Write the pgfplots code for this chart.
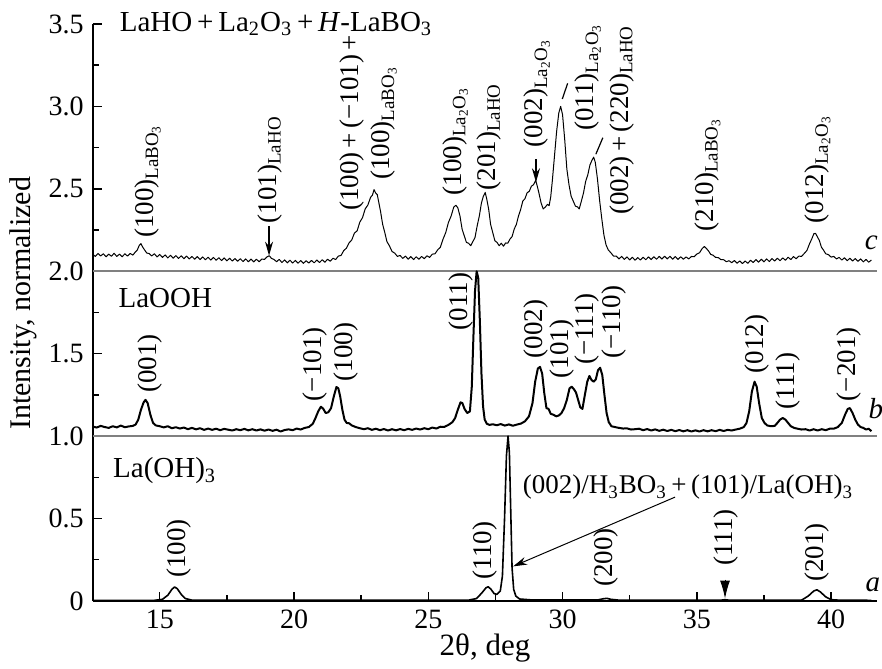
\documentclass[border=0pt]{standalone}
\usepackage{fontspec}
\setmainfont{Liberation Serif}
\usepackage{pgfplots}
\pgfplotsset{compat=1.18}
\usetikzlibrary{arrows.meta}
\tikzset{rl/.style={rotate=90, anchor=west, inner sep=0pt}}

\pgfplotstableread{
x y
12.50 0.004
14.80 0.004
15.10 0.010
15.30 0.035
15.45 0.070
15.55 0.085
15.65 0.075
15.80 0.040
15.95 0.015
16.20 0.005
26.50 0.005
26.80 0.015
27.00 0.050
27.15 0.080
27.23 0.086
27.33 0.072
27.45 0.045
27.55 0.040
27.68 0.060
27.76 0.150
27.84 0.500
27.91 0.880
27.97 1.000
28.02 0.900
28.07 0.550
28.12 0.200
28.18 0.070
28.26 0.030
28.40 0.012
28.80 0.007
31.30 0.006
31.50 0.013
31.65 0.016
31.80 0.010
32.10 0.005
35.90 0.005
36.05 0.008
36.20 0.005
38.90 0.005
39.15 0.030
39.35 0.060
39.47 0.068
39.60 0.055
39.80 0.025
40.00 0.008
40.30 0.005
41.50 0.004
}\dataA

\pgfplotstableread{
x y
12.50 1.058
12.65 1.052
12.80 1.062
12.95 1.055
13.10 1.050
13.25 1.060
13.40 1.053
13.55 1.064
13.70 1.054
13.85 1.059
14.00 1.062
14.10 1.070
14.20 1.100
14.30 1.160
14.40 1.205
14.47 1.220
14.55 1.200
14.65 1.130
14.75 1.080
14.85 1.065
15.00 1.060
15.15 1.053
15.30 1.060
15.45 1.048
15.60 1.054
15.75 1.046
15.90 1.052
16.05 1.042
16.20 1.050
16.35 1.041
16.50 1.048
16.65 1.038
16.80 1.046
16.95 1.038
17.10 1.045
17.25 1.036
17.40 1.044
17.55 1.039
17.70 1.034
17.85 1.042
18.00 1.036
18.15 1.044
18.30 1.035
18.45 1.042
18.60 1.034
18.75 1.041
18.90 1.033
19.05 1.040
19.20 1.032
19.35 1.039
19.50 1.028
19.65 1.037
19.80 1.041
19.95 1.036
20.10 1.046
20.25 1.040
20.40 1.050
20.55 1.055
20.70 1.075
20.80 1.110
20.90 1.150
21.00 1.178
21.08 1.168
21.18 1.140
21.28 1.145
21.38 1.170
21.48 1.240
21.58 1.298
21.65 1.290
21.72 1.240
21.80 1.160
21.88 1.100
21.96 1.080
22.05 1.078
22.15 1.065
22.30 1.055
22.45 1.048
22.60 1.042
22.75 1.048
22.90 1.038
23.05 1.045
23.20 1.036
23.35 1.043
23.50 1.034
23.65 1.042
23.80 1.035
23.95 1.043
24.10 1.036
24.25 1.044
24.40 1.038
24.55 1.046
24.70 1.040
24.85 1.048
25.00 1.042
25.15 1.052
25.30 1.046
25.45 1.057
25.60 1.056
25.75 1.068
25.90 1.085
26.00 1.110
26.10 1.160
26.20 1.205
26.27 1.200
26.35 1.165
26.45 1.140
26.55 1.150
26.62 1.300
26.68 1.600
26.74 1.880
26.80 2.000
26.86 1.960
26.92 1.700
26.98 1.380
27.04 1.180
27.10 1.100
27.18 1.075
27.28 1.068
27.40 1.072
27.55 1.066
27.70 1.073
27.85 1.064
28.00 1.071
28.15 1.063
28.30 1.070
28.45 1.076
28.60 1.090
28.75 1.120
28.88 1.200
28.98 1.330
29.08 1.410
29.16 1.420
29.24 1.380
29.32 1.260
29.40 1.170
29.48 1.165
29.56 1.135
29.66 1.130
29.76 1.120
29.86 1.125
29.96 1.140
30.06 1.170
30.16 1.220
30.26 1.290
30.34 1.300
30.42 1.285
30.50 1.265
30.58 1.220
30.66 1.175
30.74 1.165
30.82 1.240
30.92 1.330
31.00 1.365
31.08 1.340
31.16 1.330
31.24 1.345
31.32 1.400
31.40 1.415
31.48 1.370
31.56 1.250
31.64 1.140
31.72 1.085
31.82 1.060
31.95 1.055
32.10 1.050
32.25 1.046
32.40 1.047
32.55 1.040
32.70 1.042
32.85 1.045
33.00 1.036
33.15 1.043
33.30 1.034
33.45 1.041
33.60 1.032
33.75 1.039
33.90 1.031
34.05 1.038
34.20 1.030
34.35 1.037
34.50 1.029
34.65 1.036
34.80 1.028
34.95 1.035
35.10 1.028
35.25 1.036
35.40 1.029
35.55 1.036
35.70 1.030
35.85 1.038
36.00 1.031
36.15 1.038
36.30 1.034
36.45 1.040
36.60 1.045
36.75 1.055
36.85 1.080
36.95 1.150
37.05 1.270
37.15 1.330
37.23 1.300
37.32 1.200
37.42 1.110
37.52 1.080
37.62 1.065
37.75 1.060
37.90 1.062
38.00 1.080
38.10 1.100
38.20 1.110
38.30 1.100
38.40 1.080
38.50 1.060
38.62 1.050
38.75 1.045
38.90 1.040
39.05 1.042
39.20 1.034
39.35 1.042
39.50 1.034
39.65 1.042
39.80 1.036
39.95 1.045
40.10 1.045
40.25 1.055
40.40 1.080
40.52 1.130
40.62 1.165
40.70 1.170
40.80 1.140
40.90 1.100
41.00 1.070
41.10 1.055
41.20 1.050
41.30 1.040
41.40 1.045
41.50 1.030
}\dataB

\pgfplotstableread{
x y
12.50 2.104
12.60 2.090
12.70 2.108
12.80 2.093
12.90 2.106
13.00 2.088
13.10 2.104
13.20 2.091
13.30 2.109
13.40 2.090
13.50 2.104
13.60 2.088
13.70 2.106
13.80 2.092
13.90 2.108
14.00 2.098
14.08 2.115
14.16 2.128
14.24 2.158
14.30 2.168
14.36 2.148
14.44 2.128
14.52 2.110
14.60 2.108
14.70 2.093
14.80 2.106
14.90 2.087
15.00 2.102
15.10 2.084
15.20 2.099
15.30 2.081
15.40 2.097
15.50 2.079
15.60 2.095
15.70 2.078
15.80 2.094
15.90 2.076
16.00 2.092
16.10 2.075
16.20 2.090
16.30 2.073
16.40 2.089
16.50 2.071
16.60 2.087
16.70 2.070
16.80 2.085
16.90 2.068
17.00 2.084
17.10 2.067
17.20 2.082
17.30 2.065
17.40 2.081
17.50 2.063
17.60 2.079
17.70 2.062
17.80 2.077
17.90 2.061
18.00 2.076
18.10 2.059
18.20 2.075
18.30 2.058
18.40 2.074
18.50 2.057
18.60 2.073
18.70 2.058
18.80 2.074
18.90 2.072
19.00 2.088
19.08 2.094
19.16 2.078
19.25 2.072
19.35 2.058
19.45 2.072
19.55 2.053
19.65 2.069
19.75 2.051
19.85 2.067
19.95 2.050
20.05 2.066
20.15 2.049
20.25 2.065
20.35 2.048
20.45 2.064
20.55 2.050
20.65 2.066
20.75 2.051
20.85 2.068
20.95 2.053
21.05 2.070
21.15 2.055
21.25 2.073
21.35 2.061
21.45 2.079
21.55 2.071
21.65 2.092
21.75 2.096
21.85 2.125
21.95 2.140
22.05 2.172
22.15 2.190
22.25 2.232
22.35 2.245
22.45 2.298
22.55 2.325
22.65 2.378
22.75 2.402
22.85 2.448
22.92 2.462
22.98 2.495
23.04 2.475
23.10 2.465
23.16 2.415
23.22 2.365
23.30 2.285
23.38 2.235
23.46 2.180
23.55 2.155
23.65 2.120
23.75 2.110
23.85 2.090
23.95 2.096
24.05 2.078
24.15 2.092
24.25 2.073
24.35 2.089
24.45 2.071
24.55 2.088
24.65 2.073
24.75 2.090
24.85 2.076
24.95 2.094
25.05 2.084
25.15 2.104
25.25 2.106
25.35 2.130
25.45 2.146
25.55 2.195
25.65 2.235
25.75 2.296
25.85 2.335
25.95 2.390
26.03 2.400
26.10 2.385
26.18 2.335
26.26 2.255
26.34 2.215
26.42 2.175
26.50 2.170
26.58 2.155
26.66 2.180
26.74 2.205
26.82 2.275
26.90 2.335
26.98 2.415
27.05 2.455
27.12 2.478
27.18 2.436
27.25 2.375
27.32 2.285
27.40 2.235
27.48 2.185
27.56 2.175
27.64 2.155
27.72 2.170
27.80 2.152
27.88 2.172
27.96 2.170
28.04 2.195
28.12 2.210
28.20 2.256
28.28 2.284
28.36 2.336
28.44 2.375
28.52 2.426
28.60 2.440
28.68 2.476
28.76 2.485
28.84 2.516
28.92 2.525
29.00 2.552
29.06 2.515
29.12 2.475
29.20 2.415
29.28 2.378
29.36 2.390
29.44 2.406
29.50 2.398
29.56 2.452
29.62 2.550
29.70 2.700
29.78 2.850
29.86 2.960
29.93 3.000
30.00 2.950
30.08 2.800
30.16 2.620
30.24 2.525
30.32 2.455
30.40 2.425
30.48 2.395
30.56 2.390
30.62 2.378
30.70 2.425
30.78 2.475
30.86 2.545
30.94 2.585
31.02 2.645
31.10 2.675
31.16 2.692
31.22 2.660
31.30 2.560
31.38 2.430
31.46 2.320
31.54 2.220
31.62 2.160
31.70 2.130
31.80 2.112
31.90 2.092
32.00 2.092
32.10 2.075
32.20 2.090
32.30 2.072
32.40 2.087
32.50 2.069
32.60 2.085
32.70 2.067
32.80 2.083
32.90 2.068
33.00 2.085
33.10 2.070
33.20 2.087
33.30 2.071
33.40 2.088
33.50 2.073
33.60 2.090
33.70 2.074
33.80 2.091
33.90 2.075
34.00 2.091
34.10 2.073
34.20 2.089
34.30 2.072
34.40 2.088
34.50 2.073
34.60 2.087
34.70 2.075
34.80 2.090
34.90 2.088
35.00 2.104
35.10 2.112
35.20 2.138
35.28 2.150
35.36 2.138
35.44 2.122
35.52 2.102
35.60 2.098
35.70 2.084
35.80 2.083
35.90 2.070
36.00 2.070
36.10 2.058
36.20 2.064
36.30 2.052
36.40 2.065
36.50 2.049
36.60 2.063
36.70 2.047
36.80 2.062
36.90 2.048
37.00 2.067
37.10 2.053
37.20 2.071
37.30 2.055
37.40 2.073
37.50 2.057
37.60 2.075
37.70 2.059
37.80 2.077
37.90 2.062
38.00 2.079
38.10 2.064
38.20 2.081
38.30 2.067
38.40 2.085
38.50 2.071
38.60 2.089
38.70 2.076
38.80 2.092
38.90 2.090
39.00 2.108
39.10 2.126
39.20 2.168
39.28 2.196
39.36 2.228
39.42 2.230
39.48 2.212
39.56 2.188
39.64 2.146
39.72 2.128
39.80 2.106
39.90 2.101
40.00 2.086
40.10 2.090
40.20 2.075
40.30 2.084
40.40 2.068
40.50 2.082
40.60 2.064
40.70 2.079
40.80 2.062
40.90 2.077
41.00 2.060
41.10 2.075
41.20 2.057
41.30 2.072
41.40 2.055
41.50 2.068
}\dataC

\newcommand{\Lb}{\textsubscript{LaBO\textsubscript{3}}}
\newcommand{\Lo}{\textsubscript{La\textsubscript{2}O\textsubscript{3}}}
\newcommand{\Lh}{\textsubscript{LaHO}}
\newcommand{\bigfont}{\fontsize{14.5bp}{17bp}\selectfont}

\begin{document}
\fontsize{13.5bp}{16bp}\selectfont
\begin{tikzpicture}
\begin{axis}[name=ax, scale only axis, width=392bp, height=288.5bp,
  xmin=12.514, xmax=41.71, ymin=0, ymax=3.5,
  axis x line*=bottom, axis y line*=left,
  xtick={15,20,25,30,35,40}, xticklabels={15,20,25,30,35,40},
  minor x tick num=1,
  ytick={0,0.5,1,1.5,2,2.5,3,3.5},
  yticklabels={0,0.5,1.0,1.5,2.0,2.5,3.0,3.5},
  minor y tick num=1,
  tick align=inside, major tick length=4.5bp, minor tick length=3bp,
  every tick/.style={black, line width=0.7bp},
  axis line style={line width=0.8bp},
  ticklabel style={font=\fontsize{14bp}{16bp}\selectfont},
  /pgf/number format/assume math mode=true,
  xlabel={2θ, deg}, ylabel={Intensity, normalized},
  xlabel style={at={(axis description cs:0.5,-0.0815)}, anchor=center, font=\fontsize{15.5bp}{18bp}\selectfont},
  ylabel style={at={(axis description cs:-0.0895,0.516)}, anchor=center, font=\fontsize{15bp}{18bp}\selectfont},
  clip=false,
]
\draw[gray, line width=1bp] (axis cs:12.514,1) -- (axis cs:41.71,1);
\draw[gray, line width=1bp] (axis cs:12.514,2) -- (axis cs:41.71,2);

\addplot[black, line width=0.8bp, line join=round] table[x=x,y=y] {\dataA};
\addplot[black, line width=1bp, line join=round] table[x=x,y=y] {\dataB};
\addplot[black, line width=0.5bp, line join=round] table[x=x,y=y] {\dataC};

% panel c
\node[anchor=west, inner sep=0pt, font=\bigfont] at (axis cs:13.5,3.5) {LaHO\,+\,La\textsubscript{2}O\textsubscript{3}\,+\,\textit{H}-LaBO\textsubscript{3}};
\node[rl] at (axis cs:14.56,2.20) {(100)\Lb};
\node[rl] at (axis cs:19.10,2.29) {(101)\Lh};
\node[rotate=90, inner sep=0pt] at (axis cs:22.16,2.90) {(100)\,+\,(−101)\,+};
\node[rotate=90, inner sep=0pt] at (axis cs:23.35,2.90) {(100)\Lb};
\node[rl] at (axis cs:26.00,2.46) {(100)\Lo};
\node[rl] at (axis cs:27.26,2.49) {(201)\Lh};
\node[rl] at (axis cs:29.05,2.75) {(002)\Lo};
\node[rl] at (axis cs:30.95,2.85) {(011)\Lo};
\node[rl] at (axis cs:32.20,2.34) {(002)\,+\,(220)\Lh};
\node[rl] at (axis cs:35.40,2.24) {(210)\Lb};
\node[rl] at (axis cs:39.50,2.29) {(012)\Lo};
\draw[line width=0.6bp, -{Stealth[length=7bp,width=4bp]}] (axis cs:19.07,2.275) -- (axis cs:19.07,2.095);
\draw[line width=0.6bp, -{Stealth[length=7bp,width=4bp]}] (axis cs:29.01,2.68) -- (axis cs:29.01,2.54);
\draw[line width=0.6bp] (axis cs:29.99,3.045) -- (axis cs:30.19,3.14);
\draw[line width=0.6bp] (axis cs:31.24,2.71) -- (axis cs:31.50,2.81);
\node[font=\bigfont] at (axis cs:41.50,2.17) {\textit{c}};

% panel b
\node[anchor=west, inner sep=0pt, font=\bigfont] at (axis cs:13.45,1.84) {LaOOH};
\node[rl] at (axis cs:14.64,1.26) {(001)};
\node[rl] at (axis cs:20.80,1.21) {(−101)};
\node[rl] at (axis cs:21.95,1.33) {(100)};
\node[rl] at (axis cs:26.20,1.64) {(011)};
\node[rl] at (axis cs:29.00,1.47) {(002)};
\node[rl] at (axis cs:29.99,1.35) {(101)};
\node[rl] at (axis cs:30.90,1.43) {(−111)};
\node[rl] at (axis cs:31.90,1.47) {(−110)};
\node[rl] at (axis cs:37.24,1.38) {(012)};
\node[rl] at (axis cs:38.40,1.16) {(111)};
\node[rl] at (axis cs:40.67,1.21) {(−201)};
\node[font=\bigfont] at (axis cs:41.67,1.17) {\textit{b}};

% panel a
\node[anchor=west, inner sep=0pt, font=\bigfont] at (axis cs:13.25,0.79) {La(OH)\textsubscript{3}};
\node[rl] at (axis cs:15.70,0.14) {(100)};
\node[rl] at (axis cs:27.10,0.13) {(110)};
\node[rl] at (axis cs:31.60,0.085) {(200)};
\node[rl] at (axis cs:36.10,0.21) {(111)};
\node[rl] at (axis cs:39.48,0.115) {(201)};
\node at (axis cs:34.67,0.69) {(002)/H\textsubscript{3}BO\textsubscript{3}\,+\,(101)/La(OH)\textsubscript{3}};
\draw[line width=0.5bp, -{Stealth[length=7bp,width=4bp]}] (axis cs:34.19,0.63) -- (axis cs:28.16,0.21);
\draw[line width=0.5bp, -{Latex[length=9bp,width=5bp]}] (axis cs:36.05,0.13) -- (axis cs:36.05,0.015);
\node[font=\bigfont] at (axis cs:41.56,0.10) {\textit{a}};
\end{axis}
\pgfresetboundingbox
\path ([shift={(-46.5bp,-34bp)}]ax.south west) rectangle ([shift={(2.5bp,12bp)}]ax.north east);
\end{tikzpicture}
\end{document}
